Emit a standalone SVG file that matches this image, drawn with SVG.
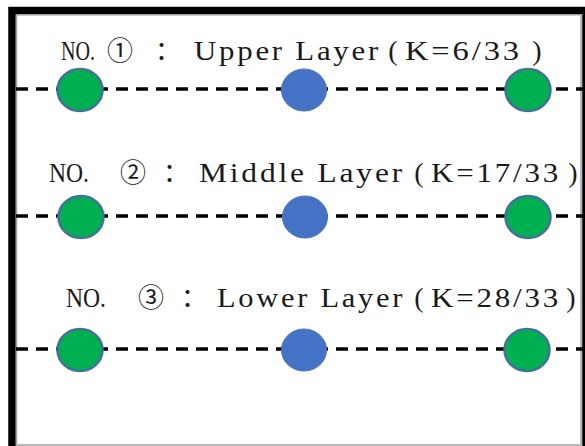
<svg xmlns="http://www.w3.org/2000/svg" width="585" height="446" viewBox="0 0 585 446">
  <style>
    .frame { fill: #ffffff; stroke: #000000; stroke-width: 7.5; }
    .edge { stroke: #a0a0a0; stroke-width: 1.5; fill: none; }
    .layer-line { stroke: #000000; stroke-width: 3.5; stroke-dasharray: 12 8; fill: none; }
    .green { fill: #00b050; stroke: #41719c; stroke-width: 2.5; }
    .blue { fill: #4472c4; stroke: #4472c4; stroke-width: 1; }
    .label { font-family: "Liberation Serif", "Noto Sans CJK SC", serif; font-size: 28px; fill: #1a1a1a; letter-spacing: 2.5px; }
    .tight { font-family: "Liberation Serif", serif; font-size: 28px; fill: #1a1a1a; }
    .mark { font-family: "Liberation Serif", serif; font-size: 28px; fill: #1a1a1a; text-anchor: middle; }
    .cjk { font-family: "Noto Sans CJK SC", "Liberation Serif", sans-serif; font-size: 26px; fill: #1a1a1a; text-anchor: middle; }
  </style>

  <!-- outer frame -->
  <rect class="frame" x="12" y="10.5" width="574" height="460"/>
  <line class="edge" x1="16.5" y1="15" x2="16.5" y2="444"/>
  <line class="edge" x1="16" y1="14.8" x2="581" y2="14.8"/>
  <line class="edge" x1="581" y1="15" x2="581" y2="444"/>
  <line class="edge" x1="16" y1="445" x2="582" y2="445"/>

  <!-- dashed layer lines -->
  <g id="connectors">
    <line class="layer-line" x1="16" y1="89" x2="585" y2="89"/>
    <line class="layer-line" x1="16" y1="216" x2="585" y2="216"/>
    <line class="layer-line" x1="16" y1="349" x2="585" y2="349"/>
  </g>

  <!-- layer titles -->
  <g id="label-upper">
    <text class="tight" x="61" y="60" textLength="34" lengthAdjust="spacingAndGlyphs">NO.</text>
    <text class="cjk" x="120" y="60">①</text>
    <text class="cjk" x="168" y="60">：</text>
    <text class="label" x="194" y="60" textLength="187" lengthAdjust="spacingAndGlyphs">Upper Layer</text>
    <text class="mark" x="393" y="60">(</text>
    <text class="label" x="405" y="60" textLength="117" lengthAdjust="spacingAndGlyphs">K=6/33</text>
    <text class="mark" x="537" y="60">)</text>
  </g>
  <g id="label-middle">
    <text class="tight" x="49" y="182" textLength="40" lengthAdjust="spacingAndGlyphs">NO.</text>
    <text class="cjk" x="133" y="182">②</text>
    <text class="cjk" x="176" y="182">：</text>
    <text class="label" x="199" y="182" textLength="206" lengthAdjust="spacingAndGlyphs">Middle Layer</text>
    <text class="mark" x="419" y="182">(</text>
    <text class="label" x="431" y="182" textLength="130" lengthAdjust="spacingAndGlyphs">K=17/33</text>
    <text class="mark" x="573" y="182">)</text>
  </g>
  <g id="label-lower">
    <text class="tight" x="66" y="307" textLength="40" lengthAdjust="spacingAndGlyphs">NO.</text>
    <text class="cjk" x="151" y="307">③</text>
    <text class="cjk" x="194" y="307">：</text>
    <text class="label" x="217" y="307" textLength="188" lengthAdjust="spacingAndGlyphs">Lower Layer</text>
    <text class="mark" x="419" y="307">(</text>
    <text class="label" x="431" y="307" textLength="130" lengthAdjust="spacingAndGlyphs">K=28/33</text>
    <text class="mark" x="571" y="307">)</text>
  </g>

  <!-- upper layer points -->
  <g id="upper-left"><ellipse class="green" cx="80" cy="90" rx="22.5" ry="21"/></g>
  <g id="upper-center"><ellipse class="blue" cx="304" cy="90" rx="22.5" ry="21"/></g>
  <g id="upper-right"><ellipse class="green" cx="528" cy="90" rx="22.5" ry="21"/></g>

  <!-- middle layer points -->
  <g id="middle-left"><ellipse class="green" cx="81" cy="217" rx="22.5" ry="21"/></g>
  <g id="middle-center"><ellipse class="blue" cx="305" cy="217" rx="22.5" ry="21"/></g>
  <g id="middle-right"><ellipse class="green" cx="528" cy="217" rx="22.5" ry="21"/></g>

  <!-- lower layer points -->
  <g id="lower-left"><ellipse class="green" cx="80" cy="350" rx="22.5" ry="21"/></g>
  <g id="lower-center"><ellipse class="blue" cx="304" cy="350" rx="22.5" ry="21"/></g>
  <g id="lower-right"><ellipse class="green" cx="527" cy="350" rx="22.5" ry="21"/></g>
</svg>
